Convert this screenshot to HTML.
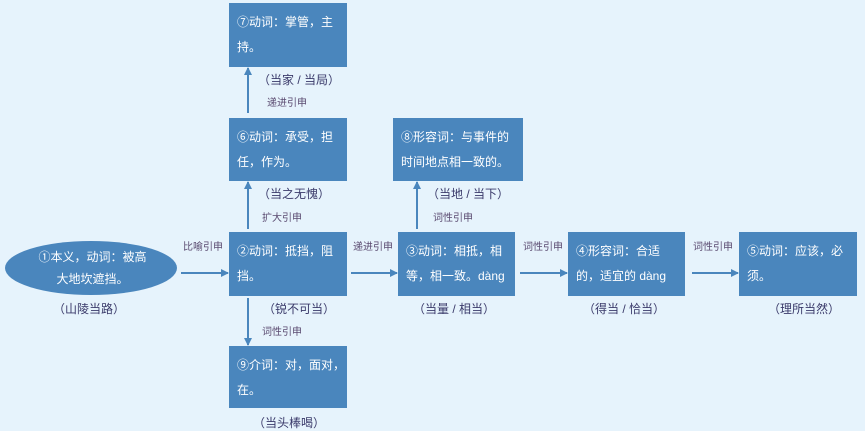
<!DOCTYPE html>
<html><head><meta charset="utf-8"><style>
body{margin:0;width:865px;height:431px;background:#e6f3fc;position:relative;overflow:hidden;font-family:"Liberation Sans","Noto Sans CJK SC",sans-serif}
.b{position:absolute;background:#4a86bd;color:#fff;font-size:12px;line-height:25px;padding:7px 8px;box-sizing:border-box;white-space:nowrap;overflow:hidden}
.t{position:absolute;font-size:12px;color:#3a3a6a;white-space:nowrap}
.s{position:absolute;font-size:10px;color:#5a4a70;white-space:nowrap}
</style></head><body>
<svg width="865" height="431" style="position:absolute;left:0;top:0">
<defs><marker id="a" markerWidth="8" markerHeight="8" refX="7" refY="4" orient="auto" markerUnits="userSpaceOnUse"><path d="M0,0 L8,4 L0,8z" fill="#4a86bd"/></marker></defs>
<ellipse cx="91" cy="268" rx="86" ry="27" fill="#4a86bd"/>
<g stroke="#4a86bd" stroke-width="2" marker-end="url(#a)">
<line x1="181" y1="273" x2="228" y2="273"/>
<line x1="351" y1="273" x2="397" y2="273"/>
<line x1="520" y1="273" x2="567" y2="273"/>
<line x1="692" y1="273" x2="738" y2="273"/>
<line x1="248" y1="113" x2="248" y2="68"/>
<line x1="248" y1="229" x2="248" y2="182"/>
<line x1="417" y1="229" x2="417" y2="182"/>
<line x1="248" y1="298" x2="248" y2="345"/>
</g></svg>
<div style="position:absolute;left:20px;top:246px;width:145px;color:#fff;font-size:12px;line-height:22px;text-align:center;white-space:nowrap">①本义，动词：被高<br>大地坎遮挡。</div>
<div class="b" style="left:229px;top:3px;width:118px;height:64px">⑦动词：掌管，主<br>持。</div>
<div class="b" style="left:229px;top:118px;width:118px;height:63px">⑥动词：承受，担<br>任，作为。</div>
<div class="b" style="left:393px;top:118px;width:130px;height:63px">⑧形容词：与事件的<br>时间地点相一致的。</div>
<div class="b" style="left:229px;top:232px;width:118px;height:64px">②动词：抵挡，阻<br>挡。</div>
<div class="b" style="left:398px;top:232px;width:117px;height:64px">③动词：相抵，相<br>等，相一致。dàng</div>
<div class="b" style="left:568px;top:232px;width:117px;height:64px">④形容词：合适<br>的，适宜的 dàng</div>
<div class="b" style="left:739px;top:232px;width:118px;height:64px">⑤动词：应该，必<br>须。</div>
<div class="b" style="left:229px;top:346px;width:118px;height:62px">⑨介词：对，面对，<br>在。</div>
<div class="t" style="left:258px;top:71px">（当家 / 当局）</div>
<div class="s" style="left:267px;top:94px">递进引申</div>
<div class="t" style="left:258px;top:185px">（当之无愧）</div>
<div class="s" style="left:262px;top:209px">扩大引申</div>
<div class="t" style="left:427px;top:185px">（当地 / 当下）</div>
<div class="s" style="left:433px;top:209px">词性引申</div>
<div class="t" style="left:263px;top:300px">（锐不可当）</div>
<div class="s" style="left:262px;top:323px">词性引申</div>
<div class="t" style="left:253px;top:414px">（当头棒喝）</div>
<div class="t" style="left:53px;top:300px">（山陵当路）</div>
<div class="t" style="left:413px;top:300px">（当量 / 相当）</div>
<div class="t" style="left:583px;top:300px">（得当 / 恰当）</div>
<div class="t" style="left:768px;top:300px">（理所当然）</div>
<div class="s" style="left:183px;top:238px">比喻引申</div>
<div class="s" style="left:353px;top:238px">递进引申</div>
<div class="s" style="left:523px;top:238px">词性引申</div>
<div class="s" style="left:693px;top:238px">词性引申</div>
</body></html>
